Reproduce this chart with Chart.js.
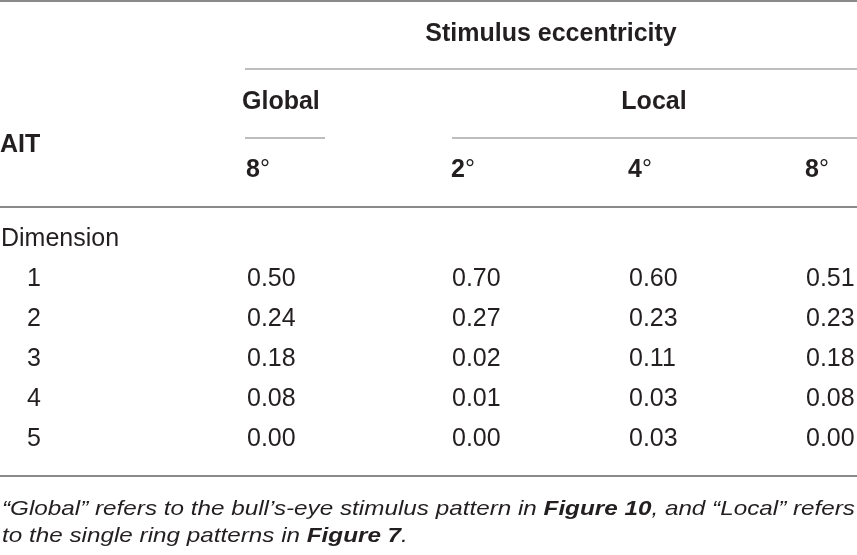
<!DOCTYPE html>
<html>
<head>
<meta charset="utf-8">
<script src="https://cdn.jsdelivr.net/npm/chart.js@4.4.1/dist/chart.umd.min.js"></script>
<style>
  html, body { margin: 0; padding: 0; background: #fff; }
  #tableChart { display: block; }
</style>
</head>
<body>
<canvas id="tableChart" width="857" height="555"></canvas>
<script>
// Table data
const dimensions = ['1', '2', '3', '4', '5'];
const groupLabels = ['Global', 'Local'];
const eccentricities = ['8', '2', '4', '8'];
const global8 = [0.50, 0.24, 0.18, 0.08, 0.00];
const local2 = [0.70, 0.27, 0.02, 0.01, 0.00];
const local4 = [0.60, 0.23, 0.11, 0.03, 0.03];
const local8 = [0.51, 0.23, 0.18, 0.08, 0.00];
const columns = [global8, local2, local4, local8];

// Layout (scale units = pixels of the 857x555 picture)
const colX = [247, 452, 629, 806];
const rowLabelX = 27;
const firstRowY = 286;
const rowStep = 40;
const textColor = '#231f20';
const bodyFont = '25px "Liberation Sans", Arial, sans-serif';
const boldFont = 'bold 25px "Liberation Sans", Arial, sans-serif';

const datasets = columns.map((values, c) => ({
  label: eccentricities[c],
  data: values.map((v, i) => ({ x: colX[c], y: firstRowY + i * rowStep, v: v })),
  pointRadius: 0,
  pointHoverRadius: 0,
}));

function hline(ctx, xs, ys, x0, x1, y, width, color) {
  ctx.save();
  ctx.strokeStyle = color;
  ctx.lineWidth = width;
  ctx.beginPath();
  ctx.moveTo(xs.getPixelForValue(x0), ys.getPixelForValue(y));
  ctx.lineTo(xs.getPixelForValue(x1), ys.getPixelForValue(y));
  ctx.stroke();
  ctx.restore();
}

function text(ctx, xs, ys, str, x, y, font, align) {
  ctx.font = font;
  ctx.textAlign = align || 'left';
  ctx.fillText(str, xs.getPixelForValue(x), ys.getPixelForValue(y));
}

const tablePlugin = {
  id: 'tablePlugin',
  afterDatasetsDraw(chart) {
    const ctx = chart.ctx;
    const xs = chart.scales.x;
    const ys = chart.scales.y;
    ctx.save();
    ctx.fillStyle = textColor;
    ctx.textBaseline = 'alphabetic';

    // rules
    hline(ctx, xs, ys, 0, 857, 1, 2, '#8a8a8a');
    hline(ctx, xs, ys, 245, 857, 69, 1.5, '#a8a8a8');
    hline(ctx, xs, ys, 245, 325, 138, 1.5, '#a8a8a8');
    hline(ctx, xs, ys, 452, 857, 138, 1.5, '#a8a8a8');
    hline(ctx, xs, ys, 0, 857, 207, 2, '#8a8a8a');
    hline(ctx, xs, ys, 0, 857, 476, 2, '#8a8a8a');

    // headers
    text(ctx, xs, ys, 'Stimulus eccentricity', 551, 41, boldFont, 'center');
    text(ctx, xs, ys, groupLabels[0], 242, 109, boldFont);
    text(ctx, xs, ys, groupLabels[1], 654, 109, boldFont, 'center');
    text(ctx, xs, ys, 'AIT', 0, 152, boldFont);
    eccentricities.forEach((e, c) => {
      text(ctx, xs, ys, e, colX[c] - 1, 177, boldFont);
      ctx.font = boldFont;
      const w = ctx.measureText(e).width;
      text(ctx, xs, ys, '\u00b0', colX[c] - 1 + w, 177, bodyFont);
    });

    // stub column
    text(ctx, xs, ys, 'Dimension', 1, 246, bodyFont);
    dimensions.forEach((d, i) => {
      text(ctx, xs, ys, d, rowLabelX, firstRowY + i * rowStep, bodyFont);
    });

    // cell values from the dataset elements
    ctx.font = bodyFont;
    ctx.textAlign = 'left';
    chart.data.datasets.forEach((ds, di) => {
      chart.getDatasetMeta(di).data.forEach((pt, i) => {
        ctx.fillText(ds.data[i].v.toFixed(2), pt.x, pt.y);
      });
    });

    // footnote
    const light = 'italic 21px "Liberation Sans Narrow", "Liberation Sans", Arial, sans-serif';
    const heavy = 'italic bold 21px "Liberation Sans Narrow", "Liberation Sans", Arial, sans-serif';
    const lines = [
      [['\u201cGlobal\u201d refers to the bull\u2019s-eye stimulus pattern in ', light], ['Figure 10', heavy], [', and \u201cLocal\u201d refers', light]],
      [['to the single ring patterns in ', light], ['Figure 7', heavy], ['.', light]],
    ];
    const measure = (runs) => runs.reduce((s, r) => { ctx.font = r[1]; return s + ctx.measureText(r[0]).width; }, 0);
    const x0 = xs.getPixelForValue(2);
    const sx = (xs.getPixelForValue(855) - x0) / measure(lines[0]);
    const baselines = [515, 542];
    lines.forEach((runs, li) => {
      ctx.save();
      ctx.translate(x0, ys.getPixelForValue(baselines[li]));
      ctx.scale(sx, 1);
      let cx = 0;
      runs.forEach((r) => {
        ctx.font = r[1];
        ctx.textAlign = 'left';
        ctx.fillText(r[0], cx, 0);
        cx += ctx.measureText(r[0]).width;
      });
      ctx.restore();
    });

    ctx.restore();
  },
};

new Chart(document.getElementById('tableChart').getContext('2d'), {
  type: 'scatter',
  data: { datasets: datasets },
  options: {
    responsive: false,
    animation: false,
    events: [],
    layout: { padding: 0 },
    plugins: { legend: { display: false }, tooltip: { enabled: false } },
    scales: {
      x: { type: 'linear', min: 0, max: 857, display: false },
      y: { type: 'linear', min: 0, max: 555, reverse: true, display: false },
    },
  },
  plugins: [tablePlugin],
});
</script>
</body>
</html>
